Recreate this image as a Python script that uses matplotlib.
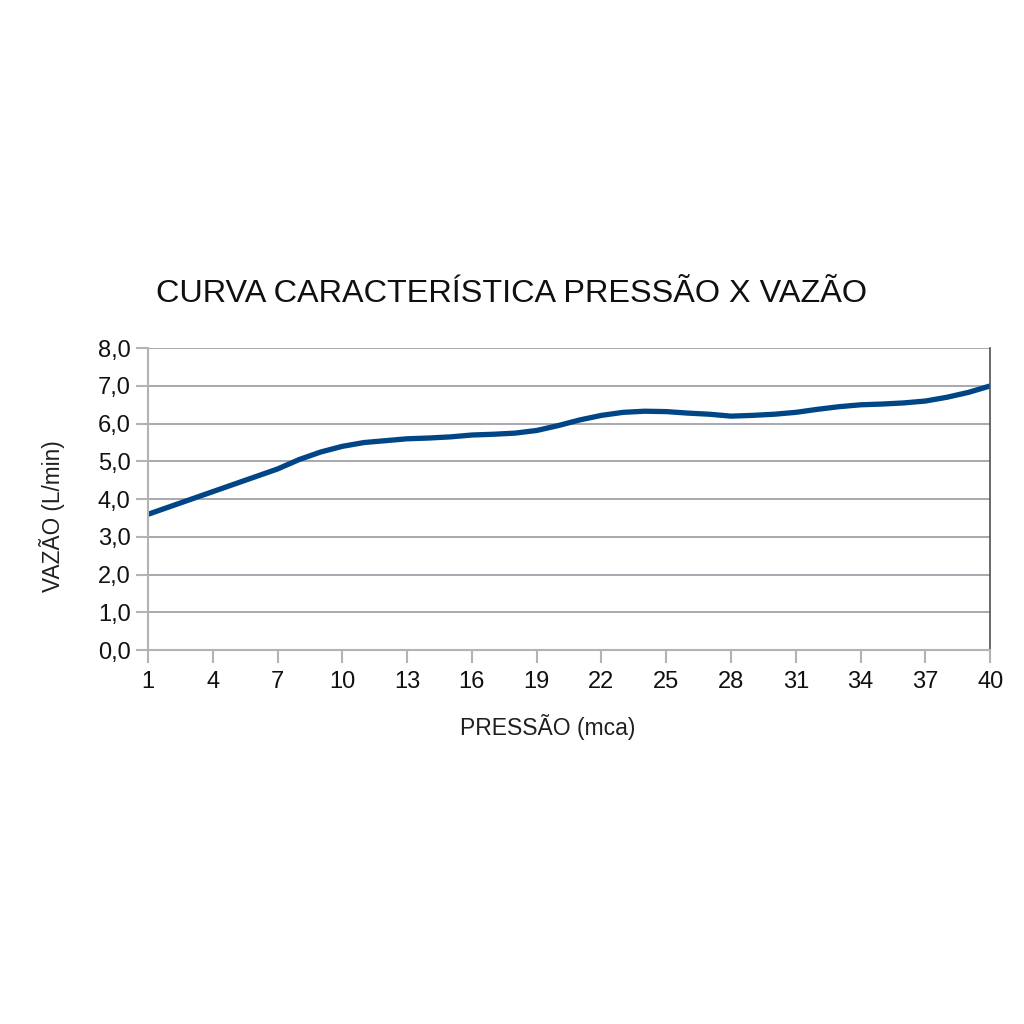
import matplotlib.pyplot as plt
from matplotlib.ticker import FuncFormatter

# dados
pressao = list(range(1, 41))
vazao = [3.6, 3.8, 4.0, 4.2, 4.4, 4.6, 4.8, 5.05, 5.25, 5.4,
         5.5, 5.55, 5.6, 5.62, 5.65, 5.7, 5.72, 5.75, 5.82, 5.95,
         6.1, 6.22, 6.3, 6.33, 6.32, 6.28, 6.25, 6.2, 6.22, 6.25,
         6.3, 6.38, 6.45, 6.5, 6.52, 6.55, 6.6, 6.7, 6.83, 7.0]
x_ticks = list(range(1, 41, 3))
y_ticks = [0, 1, 2, 3, 4, 5, 6, 7, 8]

plt.rcParams['font.family'] = ['Liberation Sans', 'DejaVu Sans']

fig = plt.figure(figsize=(10.24, 10.24), dpi=100)
ax = fig.add_axes([0.1445, 0.365, 0.8225, 0.295])

ax.plot(pressao, vazao, color='#004586', linewidth=3.8, solid_capstyle='butt')

ax.set_xlim(1, 40)
ax.set_ylim(0, 8)
ax.set_xticks(x_ticks)
ax.set_yticks(y_ticks)
ax.yaxis.set_major_formatter(FuncFormatter(lambda v, p: f'{v:.1f}'.replace('.', ',')))
ax.grid(axis='y', color='#9a9aa4', linewidth=1.2)
ax.set_axisbelow(True)

for s in ['left', 'bottom']:
    ax.spines[s].set_color('#b3b3b3')
    ax.spines[s].set_linewidth(1.5)
ax.spines['top'].set_visible(False)
ax.spines['right'].set_color('#505050')
ax.spines['right'].set_linewidth(1.2)
ax.tick_params(axis='both', colors='#b3b3b3', labelcolor='#111111', labelsize=17,
               length=9, width=1.5)
ax.tick_params(axis='x', pad=6)

# títulos dos eixos
fig.text(548 / 1024, 1 - 727 / 1024, 'PRESSÃO (mca)', fontsize=16.5, color='#202020',
         ha='center', va='center')
fig.text(52 / 1024, 1 - 516 / 1024, 'VAZÃO (L/min)', fontsize=16.3, color='#202020',
         ha='center', va='center', rotation=90)
fig.text(0.5, 0.713, 'CURVA CARACTERÍSTICA PRESSÃO X VAZÃO', fontsize=23.3,
         ha='center', va='center', color='#101010')

fig.savefig('out.png', dpi=100)
